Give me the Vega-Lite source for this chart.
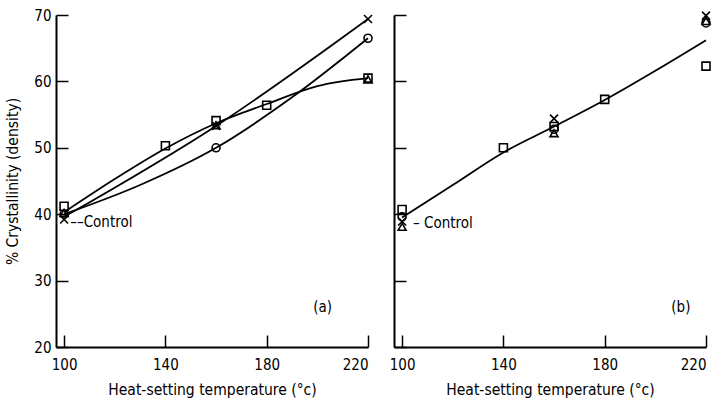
{
  "$schema": "https://vega.github.io/schema/vega-lite/v6.json",
  "background": "white",
  "padding": {"left": 5, "top": 8, "right": 0, "bottom": 0},
  "bounds": "flush",
  "spacing": 26,
  "config": {
    "view": {"stroke": null},
    "font": "DejaVu Sans Condensed",
    "axis": {
      "grid": false,
      "domainColor": "black",
      "domainWidth": 2,
      "tickColor": "black",
      "tickWidth": 1.5,
      "tickSize": -12,
      "labelPadding": 17,
      "labelFont": "DejaVu Sans Condensed",
      "labelFontSize": 15,
      "labelColor": "black",
      "titleFont": "DejaVu Sans Condensed",
      "titleFontSize": 15.5,
      "titleFontWeight": "normal",
      "titleColor": "black"
    },
    "axisX": {"labelPadding": 22}
  },
  "datasets": {
    "curvesA": [
      {"series": "cross", "x": 100, "y": 39.6},
      {"series": "cross", "x": 160, "y": 53.3},
      {"series": "cross", "x": 220, "y": 69.4},
      {"series": "circle", "x": 100, "y": 40.0},
      {"series": "circle", "x": 130, "y": 44.4},
      {"series": "circle", "x": 160, "y": 50.0},
      {"series": "circle", "x": 190, "y": 57.6},
      {"series": "circle", "x": 220, "y": 66.5},
      {"series": "square", "x": 100, "y": 40.3},
      {"series": "square", "x": 120, "y": 45.3},
      {"series": "square", "x": 140, "y": 49.9},
      {"series": "square", "x": 160, "y": 53.7},
      {"series": "square", "x": 180, "y": 56.6},
      {"series": "square", "x": 200, "y": 59.3},
      {"series": "square", "x": 220, "y": 60.5}
    ],
    "pointsA": [
      {"series": "square", "x": 100, "y": 41.2},
      {"series": "square", "x": 140, "y": 50.3},
      {"series": "square", "x": 160, "y": 54.1},
      {"series": "square", "x": 180, "y": 56.4},
      {"series": "square", "x": 220, "y": 60.5},
      {"series": "cross", "x": 100, "y": 39.2},
      {"series": "cross", "x": 160, "y": 53.3},
      {"series": "cross", "x": 220, "y": 69.4},
      {"series": "circle", "x": 100, "y": 40.0},
      {"series": "circle", "x": 160, "y": 50.0},
      {"series": "circle", "x": 220, "y": 66.5},
      {"series": "triangle", "x": 100, "y": 40.2},
      {"series": "triangle", "x": 160, "y": 53.4},
      {"series": "triangle", "x": 220, "y": 60.3}
    ],
    "labelsA": [
      {"label": "––Control", "x": 102.4, "y": 38.9},
      {"label": "(a)", "x": 198.4, "y": 26.0}
    ],
    "curvesB": [
      {"series": "all", "x": 100, "y": 39.5},
      {"series": "all", "x": 120, "y": 44.4},
      {"series": "all", "x": 140, "y": 49.3},
      {"series": "all", "x": 160, "y": 53.2},
      {"series": "all", "x": 180, "y": 57.2},
      {"series": "all", "x": 200, "y": 61.6},
      {"series": "all", "x": 220, "y": 66.2}
    ],
    "pointsB": [
      {"series": "square", "x": 100, "y": 40.7},
      {"series": "square", "x": 140, "y": 50.0},
      {"series": "square", "x": 160, "y": 53.2},
      {"series": "square", "x": 180, "y": 57.3},
      {"series": "square", "x": 220, "y": 62.3},
      {"series": "cross", "x": 100, "y": 38.9},
      {"series": "cross", "x": 160, "y": 54.4},
      {"series": "cross", "x": 220, "y": 69.9},
      {"series": "triangle", "x": 100, "y": 38.1},
      {"series": "triangle", "x": 160, "y": 52.2},
      {"series": "triangle", "x": 220, "y": 69.1},
      {"series": "circle", "x": 100, "y": 39.6},
      {"series": "circle", "x": 160, "y": 52.8},
      {"series": "circle", "x": 220, "y": 68.8}
    ],
    "labelsB": [
      {"label": "– Control", "x": 104.3, "y": 38.7},
      {"label": "(b)", "x": 206.3, "y": 26.0}
    ]
  },
  "hconcat": [
    {
      "width": 312,
      "height": 332,
      "encoding": {
        "x": {"field": "x", "type": "quantitative", "scale": {"domain": [96.8, 220], "nice": false, "zero": false},
              "axis": {"values": [100, 140, 180, 220], "title": "Heat-setting temperature (°c)", "titlePadding": 10}},
        "y": {"field": "y", "type": "quantitative", "scale": {"domain": [20, 70], "nice": false, "zero": false},
              "axis": {"values": [20, 30, 40, 50, 60, 70], "title": "% Crystallinity (density)", "titlePadding": 13}}
      },
      "layer": [
        {"data": {"name": "curvesA"},
         "mark": {"type": "line", "interpolate": "monotone", "color": "black", "strokeWidth": 1.8},
         "encoding": {"detail": {"field": "series"}}},
        {"data": {"name": "pointsA"},
         "mark": {"type": "point", "filled": false, "color": "black", "strokeWidth": 1.6, "size": 64, "opacity": 1},
         "encoding": {"shape": {"field": "series", "type": "nominal", "legend": null,
           "scale": {"domain": ["square", "circle", "cross", "triangle"], "range": ["square", "circle", "M-1,-1L1,1M-1,1L1,-1", "triangle-up"]}}}},
        {"data": {"name": "labelsA"},
         "mark": {"type": "text", "align": "left", "baseline": "middle", "fontSize": 15, "font": "DejaVu Sans Condensed", "color": "black"},
         "encoding": {"text": {"field": "label"}}}
      ]
    },
    {
      "width": 312,
      "height": 332,
      "encoding": {
        "x": {"field": "x", "type": "quantitative", "scale": {"domain": [96.8, 220], "nice": false, "zero": false},
              "axis": {"values": [100, 140, 180, 220], "title": "Heat-setting temperature (°c)", "titlePadding": 10}},
        "y": {"field": "y", "type": "quantitative", "scale": {"domain": [20, 70], "nice": false, "zero": false},
              "axis": {"values": [20, 30, 40, 50, 60, 70], "labels": false, "title": null}}
      },
      "layer": [
        {"data": {"name": "curvesB"},
         "mark": {"type": "line", "interpolate": "monotone", "color": "black", "strokeWidth": 1.8},
         "encoding": {"detail": {"field": "series"}}},
        {"data": {"name": "pointsB"},
         "mark": {"type": "point", "filled": false, "color": "black", "strokeWidth": 1.6, "size": 64, "opacity": 1},
         "encoding": {"shape": {"field": "series", "type": "nominal", "legend": null,
           "scale": {"domain": ["square", "circle", "cross", "triangle"], "range": ["square", "circle", "M-1,-1L1,1M-1,1L1,-1", "triangle-up"]}}}},
        {"data": {"name": "labelsB"},
         "mark": {"type": "text", "align": "left", "baseline": "middle", "fontSize": 15, "font": "DejaVu Sans Condensed", "color": "black"},
         "encoding": {"text": {"field": "label"}}}
      ]
    }
  ]
}
